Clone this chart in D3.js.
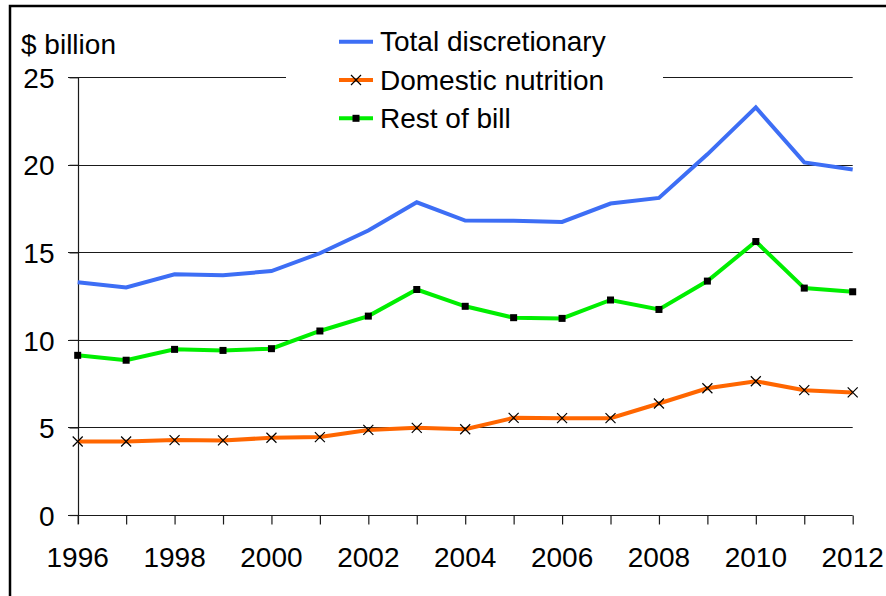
<!DOCTYPE html>
<html>
<head>
<meta charset="utf-8">
<script src="https://cdn.jsdelivr.net/npm/d3@7/dist/d3.min.js"></script>
<style>
  html, body { margin: 0; padding: 0; background: #fff; }
  svg { display: block; font-family: "Liberation Sans", Arial, sans-serif; }
</style>
</head>
<body>
<svg id="chart" width="886" height="596"></svg>
<script>
// Fiscal years
const years = [1996, 1997, 1998, 1999, 2000, 2001, 2002, 2003, 2004,
               2005, 2006, 2007, 2008, 2009, 2010, 2011, 2012];

// Spending, $ billion
const totalDiscretionary = [13.3, 13.0, 13.75, 13.7, 13.93, 14.95, 16.25, 17.86, 16.82,
                            16.8, 16.74, 17.79, 18.11, 20.6, 23.28, 20.14, 19.73];
const domesticNutrition = [4.2, 4.2, 4.28, 4.26, 4.41, 4.45, 4.86, 4.98, 4.9,
                           5.55, 5.53, 5.53, 6.37, 7.24, 7.64, 7.13, 7.0];
const restOfBill = [9.12, 8.84, 9.46, 9.4, 9.5, 10.51, 11.36, 12.88, 11.92,
                    11.27, 11.23, 12.28, 11.74, 13.36, 15.62, 12.96, 12.75];

const yTicks = [0, 5, 10, 15, 20, 25];
const xTickLabels = [1996, 1998, 2000, 2002, 2004, 2006, 2008, 2010, 2012];

const seriesNames = ["Total discretionary", "Domestic nutrition", "Rest of bill"];
const seriesColors = ["#3d6ef5", "#ff6600", "#00ee00"];
const seriesMarkers = ["none", "cross", "square"];
const seriesValues = [totalDiscretionary, domesticNutrition, restOfBill];

const svg = d3.select("#chart");

// Outer frame
svg.append("rect")
  .attr("x", 10).attr("y", 6).attr("width", 900).attr("height", 620)
  .attr("fill", "none").attr("stroke", "#000").attr("stroke-width", 2.5);

const x = d3.scaleLinear().domain([1996, 2012]).range([77.7, 852.7]);
const y = d3.scaleLinear().domain([0, 25]).range([515, 77.3]);

// Horizontal gridlines with left ticks
const grid = svg.append("g");
grid.selectAll("line").data(yTicks.filter(d => d > 0)).join("line")
  .attr("x1", 68).attr("x2", x(2012))
  .attr("y1", d => Math.round(y(d)) + 0.5).attr("y2", d => Math.round(y(d)) + 0.5)
  .attr("stroke", "#1a1a1a").attr("stroke-width", 1.2);

// Y axis
const yAxis = svg.append("g")
  .attr("transform", `translate(${Math.round(x(1996)) + 0.5},0)`)
  .call(d3.axisLeft(y).tickValues(yTicks).tickSize(9).tickPadding(15).tickFormat(d3.format("d")));
yAxis.select(".domain").attr("d", `M0,${y(25)}V${y(0) + 9}`).attr("stroke", "#1a1a1a").attr("stroke-width", 1.2);
yAxis.selectAll(".tick line").attr("stroke", "#1a1a1a").attr("stroke-width", 1.2);
yAxis.selectAll(".tick text").attr("font-size", 28).attr("fill", "#000")
  .attr("font-family", "Liberation Sans, Arial, sans-serif").attr("dy", "0.36em");

// X axis
const xAxis = svg.append("g")
  .attr("transform", `translate(0,${Math.round(y(0)) + 0.5})`)
  .call(d3.axisBottom(x).tickValues(years).tickSize(9).tickPadding(0).tickFormat(""));
xAxis.select(".domain").attr("d", `M68,0H${x(2012)}`).attr("stroke", "#1a1a1a").attr("stroke-width", 1.2);
xAxis.selectAll(".tick line").attr("stroke", "#1a1a1a").attr("stroke-width", 1.2);

svg.append("g").selectAll("text").data(xTickLabels).join("text")
  .attr("x", d => x(d)).attr("y", 567)
  .attr("text-anchor", "middle").attr("font-size", 28).attr("fill", "#000")
  .text(d => d);

// Axis unit label
svg.append("text").attr("x", 21).attr("y", 54)
  .attr("font-size", 28).attr("fill", "#000").text("$ billion");

// Series lines and markers
const line = d3.line().x((d, i) => x(years[i])).y(d => y(d));
const plot = svg.append("g");

function drawMarker(g, type, cx, cy) {
  if (type === "square") {
    g.append("rect").attr("x", cx - 3.5).attr("y", cy - 3.5)
      .attr("width", 7).attr("height", 7).attr("fill", "#000");
  } else if (type === "cross") {
    const r = 5;
    g.append("path")
      .attr("d", `M${cx - r},${cy - r}L${cx + r},${cy + r}M${cx - r},${cy + r}L${cx + r},${cy - r}`)
      .attr("stroke", "#000").attr("stroke-width", 1.2).attr("fill", "none");
  }
}

seriesValues.forEach((vals, s) => {
  plot.append("path").datum(vals)
    .attr("d", line).attr("fill", "none")
    .attr("stroke", seriesColors[s]).attr("stroke-width", 4)
    .attr("stroke-linejoin", "miter");
  const mg = plot.append("g");
  vals.forEach((v, i) => drawMarker(mg, seriesMarkers[s], x(years[i]), y(v)));
});

// Legend
const legend = svg.append("g");
legend.append("rect").attr("x", 286).attr("y", 20).attr("width", 377).attr("height", 118)
  .attr("fill", "#fff");
const legendRows = [41.7, 80, 118.3];
seriesNames.forEach((name, s) => {
  const ly = legendRows[s];
  legend.append("line").attr("x1", 339).attr("x2", 373)
    .attr("y1", ly).attr("y2", ly)
    .attr("stroke", seriesColors[s]).attr("stroke-width", 4);
  drawMarker(legend, seriesMarkers[s], 356, ly);
  legend.append("text").attr("x", 380).attr("y", ly + 9.5)
    .attr("font-size", 28).attr("fill", "#000").text(name);
});
</script>
</body>
</html>
